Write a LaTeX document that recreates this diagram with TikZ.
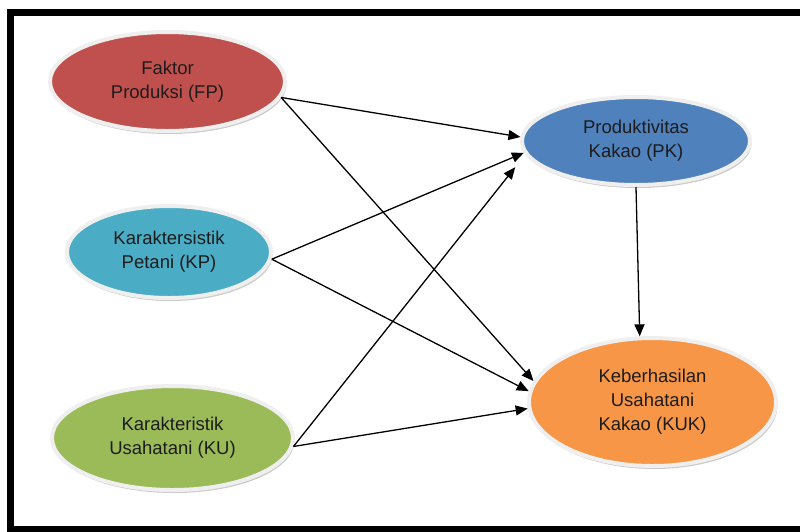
\documentclass[tikz,border=0pt]{standalone}
\usepackage{fontspec}
\setmainfont{Liberation Sans}
\usetikzlibrary{shapes.geometric,shadows,arrows.meta}
\definecolor{fpred}{HTML}{C0504D}
\definecolor{kpteal}{HTML}{4BACC6}
\definecolor{kugreen}{HTML}{9BBB59}
\definecolor{pkblue}{HTML}{4F81BD}
\definecolor{kukorange}{HTML}{F79646}
\definecolor{rim}{HTML}{EFEFEF}
\definecolor{txt}{HTML}{1C1C1C}
\begin{document}
\begin{tikzpicture}[x=1pt,y=-1pt,
  var/.style={ellipse, draw=rim, line width=4pt, inner sep=0pt, align=center,
    text=txt, font=\fontsize{18.5}{24}\selectfont,
    drop shadow={shadow xshift=1.5pt, shadow yshift=-3pt, fill=black!45, opacity=.45}},
  link/.style={draw=black, line width=1.3pt, -{Triangle[length=12pt,width=10pt]}}]
\useasboundingbox (0,0) rectangle (800,531);
\clip (0,0) rectangle (800,531);
\draw [line width=7pt] (10.5,12) rectangle (820,529.5);
% variables
\node [var, fill=fpred, minimum width=235pt, minimum height=99pt] (fp) at (167.5,81.5) {Faktor\\Produksi (FP)};
\node [var, fill=kpteal, minimum width=204pt, minimum height=92pt] (kp) at (169,252) {Karaktersistik\\Petani (KP)};
\node [var, fill=kugreen, minimum width=241pt, minimum height=104pt] (ku) at (172.5,438) {Karakteristik\\Usahatani (KU)};
\node [var, fill=pkblue, minimum width=228pt, minimum height=88pt] (pk) at (636,141) {Produktivitas\\Kakao (PK)};
\node [var, fill=kukorange, minimum width=247pt, minimum height=128pt] (kuk) at (652.5,402) {Keberhasilan\\Usahatani\\Kakao (KUK)};
% paths
\draw [link] (fp.-8) -- (pk.178);
\draw [link] (fp.-8) -- (kuk.170);
\draw [link] (kp.-4) -- (pk.186);
\draw [link] (kp.-4) -- (kuk.175);
\draw [link, shorten >=16pt] (ku.-4) -- (pk.187);
\draw [link] (ku.-4) -- (kuk.183);
\draw [link] (pk.-90) -- (kuk.101);
\end{tikzpicture}
\end{document}
